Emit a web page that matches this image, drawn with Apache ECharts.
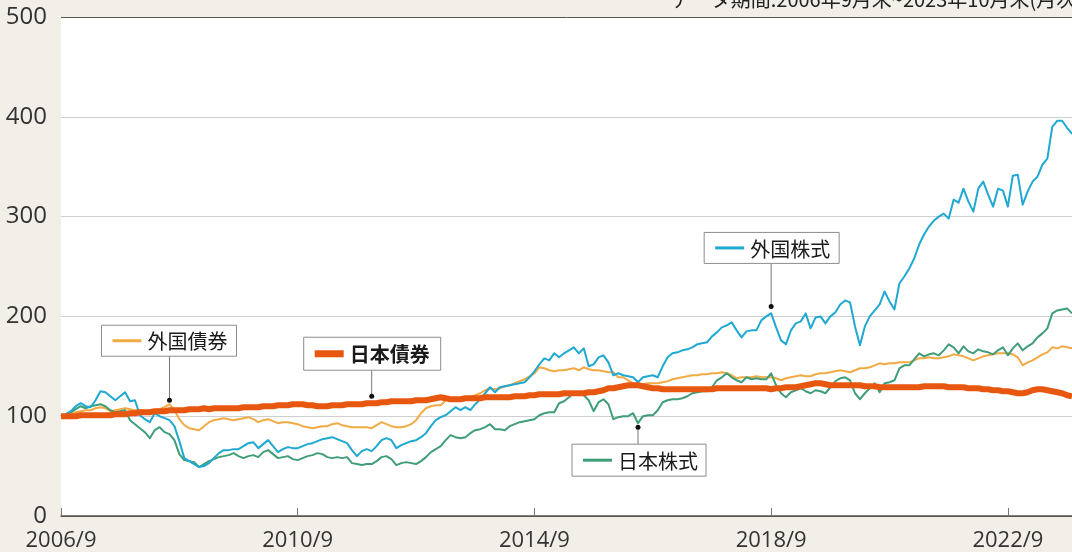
<!DOCTYPE html>
<html>
<head>
<meta charset="utf-8">
<script src="https://cdn.jsdelivr.net/npm/echarts@6/dist/echarts.min.js"></script>
<style>
  html, body { margin: 0; padding: 0; background: #f1efe7; }
  #chart { width: 1072px; height: 552px; }
</style>
</head>
<body>
<div id="chart"></div>
<script>
// monthly categories 2006/9 .. 2023/10
const months = []
for (let y = 2006, m = 9; y < 2023 || (y === 2023 && m <= 10); m++) {
  if (m > 12) { m = 1; y++ }
  months.push(y + '/' + m)
}

const yTicks = [0, 100, 200, 300, 400, 500]

// 外国株式
const foreignEquity = [
  100,102,105,110,113,110,109,116,125,124,120,116,
  120,124,115,116,101,97,94,103,100,98,96,90,
  75,58,55,52,49,50,53,58,63,66,66,67,
  67,70,73,74,68,72,76,70,64,67,69,68,
  68,70,72,73,75,77,78,79,77,75,73,66,
  60,65,67,65,70,76,78,76,68,71,73,75,
  76,79,83,90,96,99,101,105,109,106,109,106,
  112,117,123,129,124,129,130,131,132,133,134,139,
  145,152,158,156,163,159,163,166,169,163,168,150,
  152,159,161,154,141,143,141,140,139,134,139,140,
  141,139,150,159,163,164,166,167,169,172,173,174,
  180,184,189,191,194,186,179,185,186,186,196,200,
  203,189,176,172,186,193,195,203,188,199,200,193,
  200,204,212,216,214,190,171,190,200,206,212,225,
  215,207,233,240,248,258,272,282,290,296,300,303,
  298,317,314,328,315,305,328,335,322,310,328,326,
  310,341,342,312,325,335,340,352,358,390,396,396,
  389,383
]

// 日本株式
const japanEquity = [
  100,102,104,107,110,108,110,111,112,110,106,104,
  105,106,96,92,88,84,78,86,89,84,82,76,
  62,56,55,54,49,52,55,57,59,60,61,63,
  60,58,60,61,59,64,66,62,58,59,60,57,
  56,58,60,61,63,62,59,58,59,58,59,53,
  52,51,52,52,55,59,60,57,51,53,54,53,
  52,55,59,64,67,70,76,81,79,78,79,83,
  86,87,89,92,87,87,86,90,92,94,95,96,
  97,101,103,104,104,113,115,119,123,123,121,116,
  105,114,117,112,97,99,100,100,103,93,100,101,
  101,106,114,116,117,117,118,120,123,124,125,125,
  129,136,139,143,139,136,134,139,137,138,137,137,
  143,131,123,119,124,126,128,125,123,126,125,123,
  129,135,138,139,136,123,117,123,128,133,124,133,
  134,136,148,151,151,157,163,160,162,163,161,166,
  172,169,163,170,165,163,167,165,164,162,166,169,
  161,168,173,166,170,173,179,183,188,203,206,207,
  208,203
]

// 外国債券
const foreignBond = [
  100,101,103,104,105,106,106,108,109,108,105,106,
  107,108,107,106,106,105,106,106,107,109,112,106,
  97,91,88,87,86,90,94,96,97,98,97,96,
  97,98,99,97,94,96,97,95,93,94,94,93,
  92,90,89,88,89,90,90,92,93,91,90,89,
  89,89,89,88,91,94,92,90,89,89,90,92,
  96,103,108,110,111,111,116,119,116,116,117,119,
  121,123,126,128,127,128,130,131,133,135,137,140,
  143,149,148,146,145,146,146,147,148,146,149,147,
  146,146,145,144,144,139,139,136,133,131,132,133,
  133,133,134,135,137,138,139,140,141,141,142,142,
  143,143,144,143,141,138,139,139,139,140,139,139,
  139,138,136,138,139,140,141,140,140,142,143,143,
  144,145,146,145,144,146,148,148,149,151,153,152,
  153,153,154,154,154,156,158,158,159,158,158,159,
  160,162,161,160,158,156,158,160,161,162,163,163,
  163,162,159,151,154,156,159,162,164,169,168,170,
  169,168
]

// 日本債券
const japanBond = [
  100,100,100,100,101,101,101,101,101,101,101,102,
  102,102,103,103,104,104,104,105,105,105,106,106,
  106,106,107,107,107,108,107,108,108,108,108,108,
  108,109,109,109,109,110,110,110,111,111,111,112,
  112,112,111,111,110,110,110,111,111,111,112,112,
  112,112,113,113,113,114,114,115,115,115,115,115,
  116,116,116,117,118,119,118,117,117,117,118,118,
  118,118,119,119,119,119,119,119,120,120,120,121,
  121,122,122,122,122,122,123,123,123,123,123,124,
  124,125,126,128,128,129,130,131,131,131,130,129,
  128,128,127,127,127,127,127,127,127,127,127,127,
  127,128,128,128,128,128,128,128,128,128,128,128,
  127,128,128,129,129,129,130,131,132,133,133,132,
  131,131,131,131,131,131,131,130,130,130,129,129,
  129,129,129,129,129,129,129,130,130,130,130,130,
  129,129,129,129,128,128,128,127,127,126,126,125,
  125,124,123,123,124,126,127,127,126,125,124,123,
  121,120
]

const seriesNames = ['外国債券', '日本株式', '外国株式', '日本債券']
const seriesData = [foreignBond, japanEquity, foreignEquity, japanBond]
const seriesColors = ['#f2aa45', '#3f9e78', '#1fa8d2', '#e85710']
const seriesWidths = [2, 2, 2, 6]

// callout anchor points (category, value) for each label
const calloutAt = {
  '外国債券': ['2008/7', 116],
  '日本債券': ['2011/12', 120],
  '外国株式': ['2018/9', 210],
  '日本株式': ['2016/6', 89],
}

const note = 'データ期間:2006年9月末~2023年10月末(月次)'

const chart = echarts.init(document.getElementById('chart'))
const baseFont = '"Open Sans", "Noto Sans", sans-serif'
const jpFont = '"Noto Sans CJK JP", sans-serif'

chart.setOption({
  animation: false,
  backgroundColor: '#f1efe7',
  grid: {
    left: 61, top: 17, width: 1014, bottom: 36,
    show: true, backgroundColor: '#ffffff', borderWidth: 0,
  },
  xAxis: {
    type: 'category',
    data: months,
    boundaryGap: false,
    axisLine: { lineStyle: { color: '#555', width: 1.5 } },
    axisTick: {
      inside: true, length: 8,
      interval: (i) => i % 48 === 0,
      lineStyle: { color: '#777' },
    },
    axisLabel: {
      interval: (i) => i % 48 === 0,
      color: '#333', fontFamily: baseFont, fontSize: 22, margin: 14,
    },
    splitLine: { show: false },
  },
  yAxis: {
    type: 'value',
    min: yTicks[0], max: yTicks[yTicks.length - 1], interval: 100,
    axisLine: { show: false },
    axisTick: { show: false },
    axisLabel: { color: '#333', fontFamily: baseFont, fontSize: 24, margin: 14 },
    splitLine: {
      lineStyle: { color: ['#555', '#cfcfcf', '#cfcfcf', '#cfcfcf', '#cfcfcf', '#555'], width: 1 },
    },
  },
  series: seriesNames.map((name, k) => ({
    name,
    type: 'line',
    data: seriesData[k],
    symbol: 'none',
    silent: true,
    lineStyle: { color: seriesColors[k], width: seriesWidths[k], join: 'round' },
    z: 2 + k,
  })),
})

// callout boxes: [box dx, box dy, box w, box h] relative to the anchor dot
const boxGeom = {
  '外国債券': [-68, -75, 135, 31],
  '日本債券': [-68, -59, 137, 33],
  '外国株式': [-67, -74, 135, 31],
  '日本株式': [-66, 17, 134, 32],
}

const graphics = []
seriesNames.forEach((name, k) => {
  const [px, py] = chart.convertToPixel({ xAxisIndex: 0, yAxisIndex: 0 }, calloutAt[name])
  const [dx, dy, w, h] = boxGeom[name]
  const bx = px + dx, by = py + dy
  const above = dy < 0
  const cy = by + h / 2
  graphics.push(
    {
      type: 'line', z: 100,
      shape: { x1: px, y1: py, x2: px, y2: above ? by + h : by },
      style: { stroke: '#777', lineWidth: 1 },
    },
    { type: 'circle', z: 101, shape: { cx: px, cy: py, r: 2.5 }, style: { fill: '#111' } },
    {
      type: 'rect', z: 100,
      shape: { x: bx, y: by, width: w, height: h },
      style: { fill: '#fff', stroke: '#8c8c8c', lineWidth: 1 },
    },
    {
      type: 'line', z: 101,
      shape: { x1: bx + 11, y1: cy, x2: bx + 40, y2: cy },
      style: { stroke: seriesColors[k], lineWidth: seriesWidths[k] === 6 ? 7 : 3 },
    },
    {
      type: 'text', z: 101,
      style: {
        x: bx + 46, y: cy + 1, text: name,
        font: (name === '日本債券' ? 'bold ' : '') + '20px ' + jpFont,
        fill: '#1a1a1a', verticalAlign: 'middle',
      },
    },
  )
})

graphics.push({
  type: 'text', z: 100,
  style: {
    x: 1083, y: 9, text: note, align: 'right', verticalAlign: 'bottom',
    font: '20px ' + jpFont, fill: '#222',
  },
})

chart.setOption({ graphic: graphics })
</script>
</body>
</html>
